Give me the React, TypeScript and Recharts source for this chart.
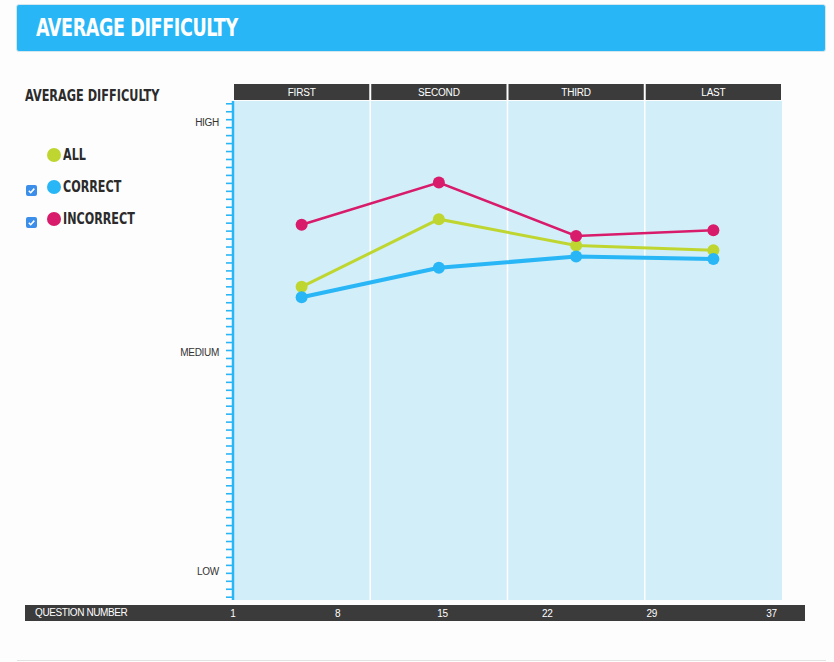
import React from 'react';
import { LineChart, Line, XAxis, YAxis, CartesianGrid } from 'recharts';

// quarters of the test
const segments = ['FIRST', 'SECOND', 'THIRD', 'LAST'];

// average difficulty per quarter (0 = bottom of the scale, 62 = top)
const allValues = [39.0, 47.5, 44.2, 43.6];
const correctValues = [37.7, 41.4, 42.8, 42.5];
const incorrectValues = [46.8, 52.1, 45.4, 46.1];

const questionTicks = [1, 8, 15, 22, 29, 37];
const levelLabels = [
    { value: 3.2, label: 'LOW' },
    { value: 30.8, label: 'MEDIUM' },
    { value: 59.7, label: 'HIGH' },
];
const minorTicks = Array.from({ length: 63 }, (_, i) => i);
const yTicks = [...minorTicks, ...levelLabels.map(l => l.value)].sort((a, b) => a - b);

const data = segments.map((segment, i) => ({
    segment,
    all: allValues[i],
    correct: correctValues[i],
    incorrect: incorrectValues[i],
}));

const BLUE = '#29B6F6';
const GREEN = '#BFD631';
const PINK = '#D81B6A';
const DARK = '#3b3b3b';
const CONDENSED = "'DejaVu Sans Condensed', 'DejaVu Sans', sans-serif";
const SANS = "'Liberation Sans', Arial, sans-serif";

const LevelTick = (props: any) => {
    const { x, y, payload } = props;
    const level = levelLabels.find(l => l.value === payload.value);
    if (level) {
        return (
            <text x={x - 14} y={y} dy={3.6} textAnchor="end" fontSize={10} fill="#333" fontFamily={SANS} letterSpacing={-0.3}>
                {level.label}
            </text>
        );
    }
    return <line x1={x - 7} x2={x - 1} y1={y} y2={y} stroke={BLUE} strokeWidth={1.6} />;
};

const SegmentTick = (props: any) => {
    const { x, y, payload, width } = props;
    const bw = (Number(width) || 549) / segments.length;
    return (
        <g>
            <rect x={x - bw / 2 + 1} y={y - 17} width={bw - 2} height={16} fill={DARK} />
            <text x={x} y={y - 5.4} textAnchor="middle" fontSize={10} fill="#fff" fontFamily={SANS} letterSpacing={-0.2}>
                {payload.value}
            </text>
        </g>
    );
};

const QuestionTick = (props: any) => {
    const { x, y, payload } = props;
    return (
        <text x={x} y={y + 16.6} textAnchor="middle" fontSize={10} fill="#fff" fontFamily={SANS} letterSpacing={-0.3}>
            {payload.value}
        </text>
    );
};

const LegendItem = ({ color, label, checked, top }: { color: string; label: string; checked: boolean; top: number }) => (
    <div style={{ position: 'absolute', left: 26, top: top - 8, height: 16, display: 'flex', alignItems: 'center' }}>
        <div style={{ width: 11, height: 11, marginRight: 10, visibility: checked ? 'visible' : 'hidden' }}>
            <svg width={11} height={11}>
                <rect x={0} y={0} width={11} height={11} rx={2} fill="#3b8eea" />
                <path d="M2.8 5.8 L4.7 7.7 L8.3 3.6" stroke="#fff" strokeWidth={1.6} fill="none" />
            </svg>
        </div>
        <div style={{ width: 14, height: 14, borderRadius: 7, background: color, marginRight: 2 }} />
        <span style={{ display: 'inline-block', transform: 'scaleX(0.8)', transformOrigin: 'left center', fontFamily: CONDENSED, fontWeight: 'bold', fontSize: 15.5, color: '#2b2b2b', whiteSpace: 'nowrap' }}>{label}</span>
    </div>
);

export default function App() {
    return (
        <div style={{ position: 'absolute', left: 0, top: 0, width: 834, height: 662, background: '#fdfdfd', overflow: 'hidden' }}>
            <div style={{ position: 'absolute', left: 16, top: 4, width: 808, height: 46, background: BLUE, borderRadius: 3, border: '1px solid #d4e6ee' }}>
                <div style={{ position: 'absolute', left: 19, top: 0, lineHeight: '46px', fontFamily: CONDENSED, fontWeight: 'bold', fontSize: 25, letterSpacing: -0.5, color: '#fff', whiteSpace: 'nowrap', transform: 'scaleX(0.78)', transformOrigin: 'left center' }}>
                    AVERAGE DIFFICULTY
                </div>
            </div>

            <div style={{ position: 'absolute', left: 25, top: 87, lineHeight: '18px', fontFamily: CONDENSED, fontWeight: 'bold', fontSize: 15.5, color: '#2b2b2b', whiteSpace: 'nowrap', transform: 'scaleX(0.81)', transformOrigin: 'left center' }}>
                AVERAGE DIFFICULTY
            </div>
            <LegendItem color={GREEN} label="ALL" checked={false} top={155} />
            <LegendItem color={BLUE} label="CORRECT" checked={true} top={187} />
            <LegendItem color={PINK} label="INCORRECT" checked={true} top={219} />

            <div style={{ position: 'absolute', left: 25, top: 605, width: 780, height: 16, background: DARK }}>
                <span style={{ position: 'absolute', left: 10, top: 0, lineHeight: '16px', fontFamily: SANS, fontSize: 10, letterSpacing: -0.4, color: '#fff' }}>
                    QUESTION NUMBER
                </span>
            </div>
            <div style={{ position: 'absolute', left: 17, top: 660, width: 809, height: 1, background: '#e2e2e2' }} />

            <div style={{ position: 'absolute', left: 0, top: 0 }}>
                <LineChart width={834} height={662} data={data} margin={{ top: 84, right: 52, bottom: 41, left: 173 }}>
                    <CartesianGrid
                        xAxisId="seg"
                        fill="#D2EEF9"
                        fillOpacity={1}
                        horizontal={false}
                        stroke="#ffffff"
                        strokeWidth={1.5}
                        verticalCoordinatesGenerator={(p: any) =>
                            [1, 2, 3].map(i => p.offset.left + (p.offset.width * i) / segments.length)
                        }
                    />
                    <XAxis
                        xAxisId="seg"
                        dataKey="segment"
                        orientation="top"
                        scale="band"
                        height={17}
                        axisLine={false}
                        tickLine={false}
                        tickSize={0}
                        tickMargin={0}
                        interval={0}
                        tick={<SegmentTick />}
                    />
                    <XAxis
                        xAxisId="q"
                        dataKey="question"
                        type="number"
                        domain={[1, 37.7]}
                        allowDataOverflow
                        ticks={questionTicks}
                        orientation="bottom"
                        height={21}
                        axisLine={false}
                        tickLine={false}
                        tickSize={0}
                        tickMargin={0}
                        interval={0}
                        tick={<QuestionTick />}
                    />
                    <YAxis
                        type="number"
                        domain={[-0.35, 62.35]}
                        allowDataOverflow
                        ticks={yTicks}
                        width={60}
                        interval={0}
                        tickSize={0}
                        tickMargin={0}
                        tickLine={false}
                        axisLine={{ stroke: BLUE, strokeWidth: 2.5 }}
                        tick={<LevelTick />}
                    />
                    <Line xAxisId="seg" type="linear" dataKey="all" stroke={GREEN} strokeWidth={3} dot={{ r: 6, fill: GREEN, stroke: GREEN, strokeWidth: 0 }} activeDot={false} isAnimationActive={false} />
                    <Line xAxisId="seg" type="linear" dataKey="correct" stroke={BLUE} strokeWidth={4} dot={{ r: 6, fill: BLUE, stroke: BLUE, strokeWidth: 0 }} activeDot={false} isAnimationActive={false} />
                    <Line xAxisId="seg" type="linear" dataKey="incorrect" stroke={PINK} strokeWidth={2.5} dot={{ r: 6, fill: PINK, stroke: PINK, strokeWidth: 0 }} activeDot={false} isAnimationActive={false} />
                </LineChart>
            </div>
        </div>
    );
}
